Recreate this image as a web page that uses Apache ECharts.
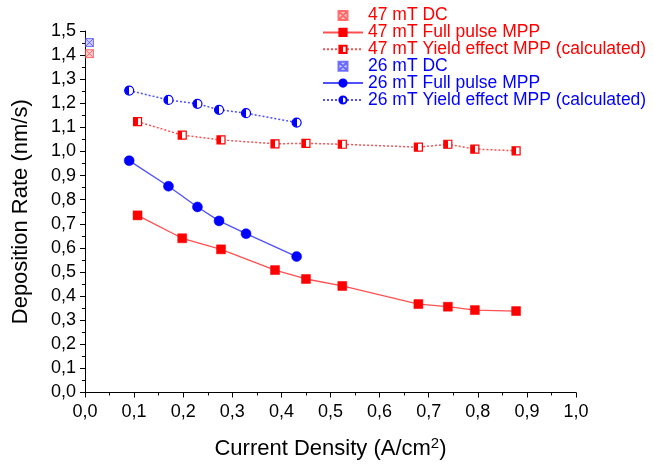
<!DOCTYPE html>
<html>
<head>
<meta charset="utf-8">
<script src="https://cdn.jsdelivr.net/npm/echarts@6/dist/echarts.min.js"></script>
<style>html,body{margin:0;padding:0;background:#fff}#c{width:654px;height:466px}</style>
</head>
<body>
<div id="c"></div>
<script>
// Data
const xRed = [0.107, 0.198, 0.277, 0.387, 0.450, 0.524, 0.679, 0.739, 0.794, 0.878];
const yRedFull = [0.735, 0.640, 0.594, 0.508, 0.471, 0.442, 0.367, 0.356, 0.342, 0.338];
const yRedYield = [1.124, 1.068, 1.048, 1.032, 1.034, 1.030, 1.018, 1.030, 1.010, 1.003];
const xBlue = [0.090, 0.170, 0.229, 0.273, 0.328, 0.431];
const yBlueFull = [0.962, 0.856, 0.770, 0.712, 0.659, 0.564];
const yBlueYield = [1.253, 1.214, 1.198, 1.173, 1.159, 1.120];
const xDC = [0.009];
const yRedDC = [1.406];
const yBlueDC = [1.452];
const seriesNames = ['47 mT DC', '47 mT Full pulse MPP', '47 mT Yield effect MPP (calculated)',
  '26 mT DC', '26 mT Full pulse MPP', '26 mT Yield effect MPP (calculated)'];

const RED = '#ff0000', BLUE = '#0000ff';
const FONT = 'Liberation Sans, Arial, sans-serif';
const zip = (xs, ys) => xs.map((x, i) => [x, ys[i]]);
const half = c => ({type: 'linear', x: 0, y: 0, x2: 1, y2: 0, colorStops: [
  {offset: 0, color: c}, {offset: 0.5, color: c}, {offset: 0.5, color: '#fff'}, {offset: 1, color: '#fff'}]});
const crossSq = 'path://M0,0L10,0L10,10L0,10Z M0,0L10,10 M10,0L0,10';
const fmt = v => v.toFixed(1).replace('.', ',');

const chart = echarts.init(document.getElementById('c'), null, {renderer: 'canvas'});
chart.setOption({
  animation: false,
  textStyle: {fontFamily: FONT},
  grid: {left: 85, right: 78, top: 31, bottom: 73.5, containLabel: false},
  legend: {
    orient: 'vertical', left: 322, top: 6.5, itemGap: -1.1, itemWidth: 40, itemHeight: 9,
    padding: 0, selectedMode: false,
    textStyle: {fontSize: 17.5, lineHeight: 16.7, fontFamily: FONT},
    data: seriesNames.map((n, i) => ({name: n, textStyle: {color: i < 3 ? RED : BLUE}}))
  },
  xAxis: {
    type: 'value', min: 0, max: 1, interval: 0.1,
    name: 'Current Density (A/cm{sup|2})', nameLocation: 'middle', nameGap: 44,
    nameTextStyle: {fontSize: 22, color: '#000', fontFamily: FONT,
      rich: {sup: {fontSize: 15, color: '#000', fontFamily: FONT, verticalAlign: 'top', padding: [0, 0, 10, 0]}}},
    axisLine: {lineStyle: {color: '#000', width: 1}},
    axisTick: {inside: false, length: 5, lineStyle: {color: '#000'}},
    minorTick: {show: true, splitNumber: 2, length: 3, lineStyle: {color: '#000'}},
    splitLine: {show: false},
    axisLabel: {formatter: fmt, fontSize: 18, color: '#000', margin: 11}
  },
  yAxis: {
    type: 'value', min: 0, max: 1.5, interval: 0.1,
    name: 'Deposition Rate (nm/s)', nameLocation: 'middle', nameGap: 53.5, nameRotate: 90,
    nameTextStyle: {fontSize: 22, color: '#000', fontFamily: FONT},
    axisLine: {show: true, lineStyle: {color: '#000', width: 1}},
    axisTick: {show: true, inside: false, length: 5, lineStyle: {color: '#000'}},
    minorTick: {show: true, splitNumber: 2, length: 3, lineStyle: {color: '#000'}},
    splitLine: {show: false},
    axisLabel: {formatter: fmt, fontSize: 18, color: '#000', margin: 9}
  },
  series: [
    {name: seriesNames[0], type: 'scatter', data: zip(xDC, yRedDC), symbol: crossSq, symbolSize: 8,
      itemStyle: {color: 'rgba(255,0,0,0.25)', borderColor: '#ff5050', borderWidth: 1}},
    {name: seriesNames[1], type: 'line', data: zip(xRed, yRedFull), symbol: 'rect', symbolSize: 9,
      lineStyle: {color: '#ff5050', width: 1.3}, itemStyle: {color: RED, borderColor: RED, borderWidth: 0.5}},
    {name: seriesNames[2], type: 'line', data: zip(xRed, yRedYield), symbol: 'rect', symbolSize: 8,
      lineStyle: {color: '#ff5050', width: 1.5, type: [2, 2]},
      itemStyle: {color: half(RED), borderColor: RED, borderWidth: 1.2}},
    {name: seriesNames[3], type: 'scatter', data: zip(xDC, yBlueDC), symbol: crossSq, symbolSize: 8,
      itemStyle: {color: 'rgba(0,0,255,0.25)', borderColor: '#5050ff', borderWidth: 1}},
    {name: seriesNames[4], type: 'line', data: zip(xBlue, yBlueFull), symbol: 'circle', symbolSize: 10,
      lineStyle: {color: '#5050ff', width: 1.3}, itemStyle: {color: BLUE, borderColor: BLUE, borderWidth: 0.5}},
    {name: seriesNames[5], type: 'line', data: zip(xBlue, yBlueYield), symbol: 'circle', symbolSize: 9,
      lineStyle: {color: '#5050ff', width: 1.5, type: [2, 2]},
      itemStyle: {color: half(BLUE), borderColor: BLUE, borderWidth: 1.2}}
  ]
});
</script>
</body>
</html>
